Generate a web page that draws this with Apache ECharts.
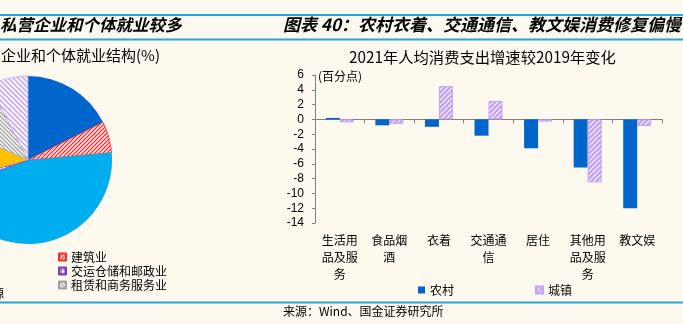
<!DOCTYPE html>
<html><head><meta charset="utf-8">
<script src="https://cdn.jsdelivr.net/npm/echarts@6/dist/echarts.min.js"></script>
<style>html,body{margin:0;padding:0;background:#FDF9EF;}#c{width:683px;height:324px;}</style>
</head><body><div id="c"></div>
<script>
// ---- data ----
const pieNames = ['制造业','建筑业','批发和零售业','交运仓储和邮政业','住宿和餐饮业','租赁和商务服务业','其他'];
const pieValues = [17.6, 6.0, 45.8, 1.4, 10.8, 10.8, 7.6];
const pieLegendNames = ['建筑业','交运仓储和邮政业','租赁和商务服务业'];
const categories = ['生活用品及服务','食品烟酒','衣着','交通通信','居住','其他用品及服务','教文娱'];
const ruralValues = [0.2, -0.8, -1.0, -2.2, -3.9, -6.5, -12.0];
const urbanValues = [-0.4, -0.6, 4.5, 2.5, -0.3, -8.5, -0.9];
const seriesNames = ['农村','城镇'];
const yMin = -14, yMax = 6, yStep = 2;

// ---- patterns ----
function hatch(bg, fg, dir, size, lw){
  const c = document.createElement('canvas');
  c.width = size; c.height = size;
  const g = c.getContext('2d');
  g.fillStyle = bg; g.fillRect(0,0,size,size);
  g.strokeStyle = fg; g.lineWidth = lw;
  g.beginPath();
  if (dir === '/') {
    g.moveTo(-1, size+1); g.lineTo(size+1, -1);
    g.moveTo(-1, 1); g.lineTo(1, -1);
    g.moveTo(size-1, size+1); g.lineTo(size+1, size-1);
  } else if (dir === '\\') {
    g.moveTo(-1, -1); g.lineTo(size+1, size+1);
    g.moveTo(size-1, -1); g.lineTo(size+1, 1);
    g.moveTo(-1, size-1); g.lineTo(1, size+1);
  } else {
    g.moveTo(0, size/2); g.lineTo(size, size/2);
    g.moveTo(size/2, 0); g.lineTo(size/2, size);
  }
  g.stroke();
  return {image: c, repeat: 'repeat'};
}
const urbanPattern = hatch('#C09CF4', '#F4EEFF', '/', 5, 1.3);
const pieStyles = [
  {color: '#0066CC'},
  {color: hatch('#FFFFFF', '#FF2A2A', '/', 4, 1.3), borderColor: '#FF2A2A', borderWidth: 0.8},
  {color: '#00AEEF'},
  {color: hatch('#FFFFFF', '#7B3FB0', '+', 4, 1.0), borderColor: '#7B3FB0', borderWidth: 0.8},
  {color: '#FFC000'},
  {color: hatch('#FFFFFF', '#A0A0A0', '\\', 4, 1.3), borderColor: '#A0A0A0', borderWidth: 0.8},
  {color: hatch('#FFFFFF', '#C8A8F6', '\\', 5, 1.6), borderColor: '#C8A8F6', borderWidth: 0.8}
];

const CJK = '"Noto Sans CJK SC", sans-serif';
const NUM = '"Liberation Sans", Arial, sans-serif';
const lineColor = '#22A8E0';

const chart = echarts.init(document.getElementById('c'), null, {renderer: 'canvas'});
const option = {
  backgroundColor: '#FDF9EF',
  animation: false,
  graphic: [
    {type: 'rect', shape: {x: 0, y: 14, width: 683, height: 2}, style: {fill: lineColor}, silent: true},
    {type: 'rect', shape: {x: 0, y: 38.5, width: 683, height: 2}, style: {fill: lineColor}, silent: true},
    {type: 'rect', shape: {x: 0, y: 301.5, width: 683, height: 2}, style: {fill: lineColor}, silent: true},
    {type: 'text', left: 0, top: 16, style: {text: '私营企业和个体就业较多', fontSize: 16.5, fontWeight: 'bold', fontStyle: 'italic', fontFamily: CJK, fill: '#000'}},
    {type: 'text', x: 283, y: 16, style: {text: '图表 40：农村衣着、交通通信、教文娱消费修复偏慢', fontSize: 17, fontWeight: 'bold', fontStyle: 'italic', fontFamily: CJK, fill: '#000'}},
    {type: 'text', left: 1, top: 48, style: {text: '企业和个体就业结构(%)', fontSize: 15, fontFamily: CJK, fill: '#000'}},
    {type: 'text', left: 349, top: 50, style: {text: '2021年人均消费支出增速较2019年变化', fontSize: 15.3, fontFamily: CJK, fill: '#000'}},
    {type: 'text', left: 318, top: 70, style: {text: '(百分点)', fontSize: 12, fontFamily: CJK, fill: '#000'}},
    {type: 'text', left: 283, top: 305, style: {text: '来源：Wind、国金证券研究所', fontSize: 12, fontFamily: CJK, fill: '#000'}},
    {type: 'text', x: -20, y: 287, style: {text: '来源', fontSize: 12, fontFamily: CJK, fill: '#000'}}
  ],
  legend: [
    {
      data: pieLegendNames, orient: 'vertical', left: 53, top: 245,
      itemWidth: 7, itemHeight: 7, itemGap: 0, icon: 'rect', selectedMode: false,
      textStyle: {fontSize: 12, fontFamily: CJK, color: '#000', lineHeight: 14}
    },
    {
      data: seriesNames, orient: 'horizontal', left: 413, top: 279,
      itemWidth: 7, itemHeight: 7, itemGap: 81, icon: 'rect', selectedMode: false,
      textStyle: {fontSize: 12, fontFamily: CJK, color: '#000'}
    }
  ],
  grid: {left: 315, right: 21, top: 75, bottom: 101, containLabel: false, outerBoundsMode: 'none'},
  xAxis: [
    {
      type: 'category', data: categories,
      axisLine: {onZero: true, lineStyle: {color: '#808080', width: 1}},
      axisTick: {show: true, length: 4, interval: 0, lineStyle: {color: '#808080'}},
      axisLabel: {show: false},
      splitLine: {show: false}
    },
    {
      type: 'category', data: categories, position: 'bottom',
      axisLine: {show: false, onZero: false},
      axisTick: {show: false},
      axisLabel: {
        interval: 0, margin: 9, fontSize: 12, fontFamily: CJK, color: '#000', lineHeight: 17,
        formatter: v => v.match(/.{1,3}/g).join('\n')
      },
      splitLine: {show: false}
    }
  ],
  yAxis: {
    type: 'value', min: yMin, max: yMax, interval: yStep,
    axisLine: {show: true, lineStyle: {color: '#808080'}},
    axisTick: {show: true, length: 3, lineStyle: {color: '#808080'}},
    axisLabel: {margin: 11, fontSize: 12, fontFamily: NUM, color: '#000'},
    splitLine: {show: false}
  },
  series: [
    {
      type: 'pie', center: [28, 160], radius: 84, startAngle: 90, clockwise: true,
      label: {show: false}, labelLine: {show: false}, silent: true,
      emphasis: {disabled: true},
      data: pieNames.map((n, i) => ({name: n, value: pieValues[i], itemStyle: pieStyles[i]}))
    },
    {
      name: seriesNames[0], type: 'bar', xAxisIndex: 0, data: ruralValues, barWidth: 14, barGap: '0%',
      itemStyle: {color: '#0066CC'}, silent: true
    },
    {
      name: seriesNames[1], type: 'bar', xAxisIndex: 0, data: urbanValues, barWidth: 14, barGap: '0%',
      itemStyle: {color: urbanPattern, borderColor: '#C4A2F5', borderWidth: 1}, silent: true
    }
  ]
};
chart.setOption(option);
</script>
</body></html>
